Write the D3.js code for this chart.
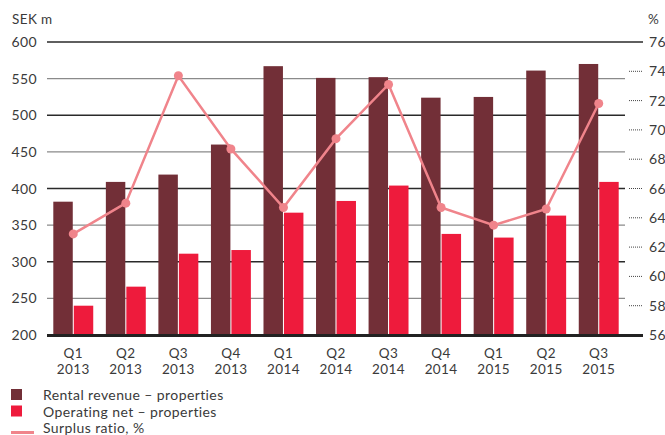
<!DOCTYPE html>
<html>
<head>
<meta charset="utf-8">
<script src="https://cdn.jsdelivr.net/npm/d3@7"></script>
<style>
  body { margin: 0; background: #fff; }
  svg text { font-family: Lato, "Open Sans", sans-serif; fill: #3a3a3a; letter-spacing: 0.4px; }
</style>
</head>
<body>
<svg width="665" height="435"></svg>
<script>
let quarters = ['Q1', 'Q2', 'Q3', 'Q4', 'Q1', 'Q2', 'Q3', 'Q4', 'Q1', 'Q2', 'Q3'];
let years = ['2013', '2013', '2013', '2013', '2014', '2014', '2014', '2014', '2015', '2015', '2015'];
let rentalRevenue = [382, 409, 419, 460, 567, 551, 552, 524, 525, 561, 570];
let operatingNet = [240, 266, 311, 316, 367, 383, 404, 338, 333, 363, 409];
let surplusRatio = [62.9, 65.0, 73.7, 68.7, 64.7, 69.4, 73.1, 64.7, 63.5, 64.6, 71.8];
let leftTicks = [200, 250, 300, 350, 400, 450, 500, 550, 600];
let rightTicks = [56, 58, 60, 62, 64, 66, 68, 70, 72, 74, 76];

let svg = d3.select('svg');

let plotLeft = 47;
let plotRight = 625;
let axisEnd = 643;
let plotTop = 42;
let plotBottom = 335;

let cats = quarters.map((q, i) => i);

let x = d3.scaleBand().domain(cats).range([plotLeft, plotRight]).paddingInner(0.24).paddingOuter(0.12);
let xSub = d3.scaleBand().domain(['rev', 'net']).range([0, x.bandwidth()]).paddingInner(0.05);
let y = d3.scaleLinear().domain([200, 600]).range([plotBottom, plotTop]);
let y2 = d3.scaleLinear().domain([56, 76]).range([plotBottom, plotTop]);

// grid lines
svg.selectAll('.grid')
  .data(leftTicks.filter((d) => d > 200))
  .enter()
  .append('line')
  .attr('x1', plotLeft)
  .attr('x2', (d) => (d === 600 ? axisEnd : plotRight))
  .attr('y1', (d) => y(d))
  .attr('y2', (d) => y(d))
  .attr('stroke', (d, i) => (i % 2 === 0 ? '#8a8a8a' : '#2a2a2a'))
  .attr('stroke-width', 1.4);

// left labels
svg.selectAll('.ly')
  .data(leftTicks)
  .enter()
  .append('text')
  .attr('x', 37)
  .attr('y', (d) => y(d) + 5)
  .attr('text-anchor', 'end')
  .attr('font-size', 14)
  .text((d) => d);

// right dotted ticks and labels
svg.selectAll('.rt')
  .data(rightTicks.filter((d) => d > 56 && d < 76))
  .enter()
  .append('line')
  .attr('x1', 629)
  .attr('x2', axisEnd)
  .attr('y1', (d) => y2(d))
  .attr('y2', (d) => y2(d))
  .attr('stroke', '#444')
  .attr('stroke-width', 1)
  .attr('stroke-dasharray', '1,1');

svg.selectAll('.ry')
  .data(rightTicks)
  .enter()
  .append('text')
  .attr('x', 649)
  .attr('y', (d) => y2(d) + 5)
  .attr('font-size', 14)
  .text((d) => d);

svg.append('text').attr('x', 12).attr('y', 24).attr('font-size', 13.5).text('SEK m');
svg.append('text').attr('x', 648).attr('y', 24).attr('font-size', 13.5).text('%');

// bars
let groups = svg.selectAll('.grp')
  .data(cats)
  .enter()
  .append('g')
  .attr('transform', (d) => `translate(${x(d)},0)`);

groups.append('rect')
  .attr('x', xSub('rev'))
  .attr('width', xSub.bandwidth())
  .attr('y', (d) => y(rentalRevenue[d]))
  .attr('height', (d) => plotBottom - y(rentalRevenue[d]))
  .attr('fill', '#722f37');

groups.append('rect')
  .attr('x', xSub('net'))
  .attr('width', xSub.bandwidth())
  .attr('y', (d) => y(operatingNet[d]))
  .attr('height', (d) => plotBottom - y(operatingNet[d]))
  .attr('fill', '#ee1b3c');

// base axis
svg.append('line')
  .attr('x1', plotLeft)
  .attr('x2', axisEnd)
  .attr('y1', plotBottom + 0.5)
  .attr('y2', plotBottom + 0.5)
  .attr('stroke', '#222')
  .attr('stroke-width', 3);

// surplus ratio line
let line = d3.line()
  .x((d) => x(d) + x.bandwidth() / 2)
  .y((d) => y2(surplusRatio[d]));

svg.append('path')
  .datum(cats)
  .attr('d', line)
  .attr('fill', 'none')
  .attr('stroke', '#f0848b')
  .attr('stroke-width', 2.5);

svg.selectAll('.pt')
  .data(cats)
  .enter()
  .append('circle')
  .attr('cx', (d) => x(d) + x.bandwidth() / 2)
  .attr('cy', (d) => y2(surplusRatio[d]))
  .attr('r', 4.5)
  .attr('fill', '#f0848b');

// x labels
svg.selectAll('.xq')
  .data(cats)
  .enter()
  .append('text')
  .attr('text-anchor', 'middle')
  .attr('font-size', 13.5)
  .attr('x', (d) => x(d) + x.bandwidth() / 2)
  .attr('y', 357.5)
  .text((d) => quarters[d]);

svg.selectAll('.xy')
  .data(cats)
  .enter()
  .append('text')
  .attr('text-anchor', 'middle')
  .attr('font-size', 13.5)
  .attr('x', (d) => x(d) + x.bandwidth() / 2)
  .attr('y', 373.5)
  .text((d) => years[d]);

// legend
let legend = [
  { label: 'Rental revenue – properties', color: '#722f37', type: 'box' },
  { label: 'Operating net – properties', color: '#ee1b3c', type: 'box' },
  { label: 'Surplus ratio, %', color: '#f0848b', type: 'line' },
];

let lg = svg.selectAll('.lg')
  .data(legend)
  .enter()
  .append('g')
  .attr('transform', (d, i) => `translate(0,${389 + i * 16.5})`);

lg.filter((d) => d.type === 'box')
  .append('rect')
  .attr('x', 11)
  .attr('y', 0)
  .attr('width', 11)
  .attr('height', 11)
  .attr('fill', (d) => d.color);

lg.filter((d) => d.type === 'line')
  .append('rect')
  .attr('x', 11)
  .attr('y', 9)
  .attr('width', 23)
  .attr('height', 3)
  .attr('fill', (d) => d.color);

lg.append('text')
  .attr('x', 43)
  .attr('y', 11)
  .attr('font-size', 14)
  .text((d) => d.label);
</script>
</body>
</html>
